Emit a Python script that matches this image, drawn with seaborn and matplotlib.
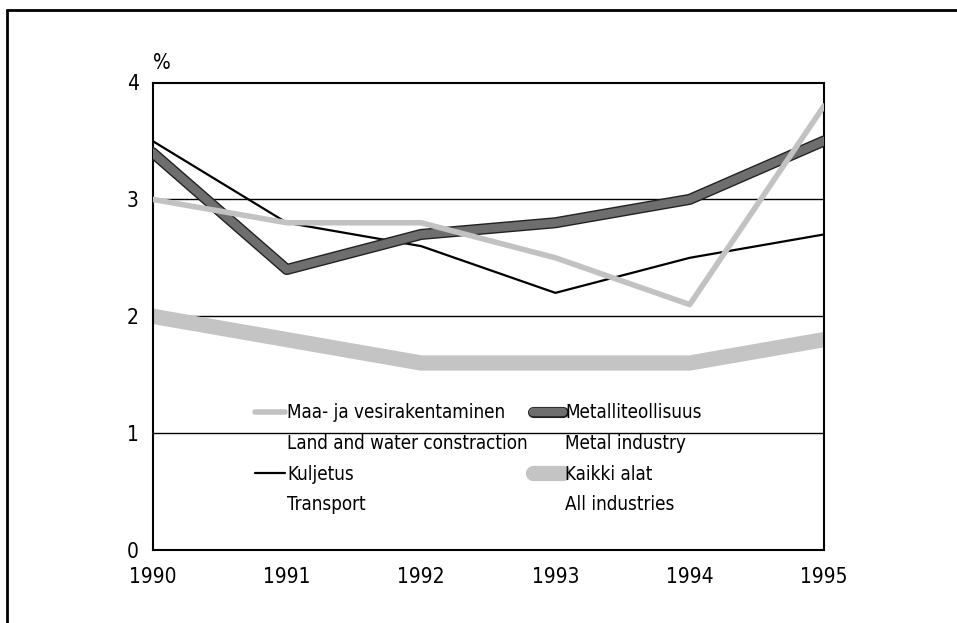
import matplotlib
matplotlib.use("Agg")
import matplotlib.pyplot as plt
import matplotlib.patheffects as pe
from matplotlib.lines import Line2D
from matplotlib import font_manager
import seaborn as sns

years = [1990, 1991, 1992, 1993, 1994, 1995]
maa = [3.0, 2.8, 2.8, 2.5, 2.1, 3.8]
metalli = [3.4, 2.4, 2.7, 2.8, 3.0, 3.5]
kuljetus = [3.5, 2.8, 2.6, 2.2, 2.5, 2.7]
kaikki = [2.0, 1.8, 1.6, 1.6, 1.6, 1.8]
yticks = [0, 1, 2, 3, 4]
labels = ['Maa- ja vesirakentaminen', 'Land and water constraction', 'Kuljetus', 'Transport',
          'Metalliteollisuus', 'Metal industry', 'Kaikki alat', 'All industries']

sns.set_style("white")
fl = font_manager.fontManager.ttflist
names = {f.name for f in fl}
if "Liberation Sans Narrow" in names:
    plt.rcParams['font.family'] = ['Liberation Sans Narrow', 'DejaVu Sans']
elif any(f.name == 'DejaVu Sans' and f.stretch == 'condensed' for f in fl):
    plt.rcParams['font.family'] = ['DejaVu Sans']
    plt.rcParams['font.stretch'] = 'condensed'
else:
    plt.rcParams['font.family'] = ['Liberation Sans', 'DejaVu Sans']
plt.rcParams['text.color'] = 'black'

fig = plt.figure(figsize=(9.57, 6.23), dpi=100)
ax = fig.add_axes([152.5/957, 1-550/623, (824-152.5)/957, (550-82.5)/623])

fig.add_artist(Line2D([7/957, 1.0], [1-10/623, 1-10/623], color='black', lw=2, transform=fig.transFigure))
fig.add_artist(Line2D([7/957, 7/957], [0, 1-10/623], color='black', lw=2, transform=fig.transFigure))

for y in [1, 2, 3]:
    ax.axhline(y, color='black', lw=1, zorder=1)

sns.lineplot(x=years, y=kaikki, ax=ax, color='#c4c4c4', lw=11, zorder=2)
sns.lineplot(x=years, y=kuljetus, ax=ax, color='black', lw=1.6, zorder=3)
met_fx = [pe.Stroke(linewidth=8, foreground='#222222'), pe.Normal()]
sns.lineplot(x=years, y=metalli, ax=ax, color='#6e6e6e', lw=6, zorder=4, path_effects=met_fx)
sns.lineplot(x=years, y=maa, ax=ax, color='#c2c2c2', lw=4, zorder=5)

ax.set_xlim(1990, 1995)
ax.set_ylim(0, 4)
ax.set_xticks(years)
ax.set_xticklabels([str(y) for y in years])
ax.set_yticks(yticks)
ax.tick_params(axis='both', length=0, labelsize=15, colors='black')
ax.tick_params(axis='x', pad=12)
ax.tick_params(axis='y', pad=10)
for s in ax.spines.values():
    s.set_visible(True)
    s.set_color('black')
    s.set_linewidth(1.5)
ax.set_xlabel('')
ax.set_ylabel('')
ax.text(0.0, 1.02, '%', transform=ax.transAxes, fontsize=15, ha='left', va='bottom', color='black')

blank = Line2D([], [], color='none')
h_maa = Line2D([], [], color='#c2c2c2', lw=4)
h_met = Line2D([], [], color='#6e6e6e', lw=6, path_effects=met_fx)
h_kul = Line2D([], [], color='black', lw=1.6)
h_kai = Line2D([], [], color='#c4c4c4', lw=11)
handles = [h_maa, blank, h_kul, blank, h_met, blank, h_kai, blank]
leg = ax.legend(handles, labels, ncol=2, loc='upper left', bbox_to_anchor=(0.128, 0.35),
                frameon=False, fontsize=13.5, handlelength=1.6, handletextpad=0.1,
                labelspacing=0.62, columnspacing=0.3)
for t in leg.get_texts():
    t.set_color('black')

fig.savefig('out.png', dpi=100)
